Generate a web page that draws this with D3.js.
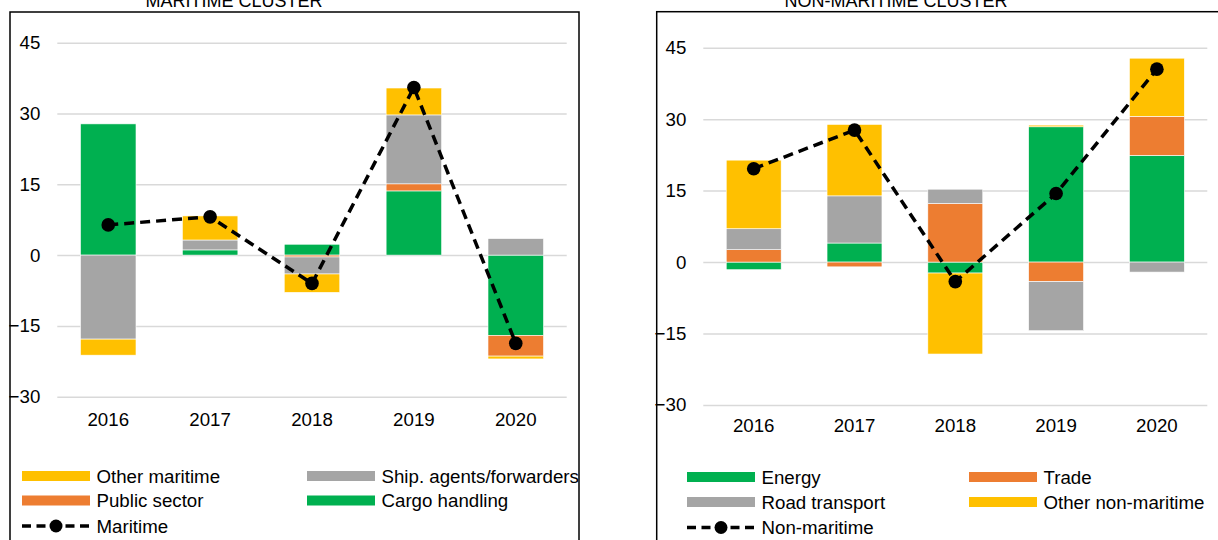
<!DOCTYPE html>
<html>
<head>
<meta charset="utf-8">
<script src="https://cdn.jsdelivr.net/npm/d3@7"></script>
<style>
  html, body { margin: 0; padding: 0; background: #fff; }
  svg { display: block; font-family: "Liberation Sans", Arial, sans-serif; }
</style>
</head>
<body>
<svg id="chart" width="1218" height="540"></svg>
<script>
// ---------- DATA ----------
const years = ["2016", "2017", "2018", "2019", "2020"];
const yTicks = [-30, -15, 0, 15, 30, 45];

// Maritime cluster
const cargoHandling  = [27.8, 1.1, 2.3, 13.6, -17.0];
const publicSector   = [0.0, 0.0, -0.4, 1.5, -4.4];
const shipAgents     = [-17.8, 2.1, -3.6, 14.6, 3.5];
const otherMaritime  = [-3.4, 5.1, -3.9, 5.7, -0.6];
const maritimeTotal  = [6.4, 8.1, -6.0, 35.5, -18.7];

// Non-maritime cluster
const energy           = [-1.6, 4.0, -2.3, 28.4, 22.4];
const trade            = [2.6, -1.0, 12.3, -4.1, 8.2];
const roadTransport    = [4.4, 9.9, 3.0, -10.3, -2.1];
const otherNonMaritime = [14.4, 15.0, -17.0, 0.35, 12.2];
const nonMaritimeTotal = [19.6, 27.7, -4.1, 14.4, 40.5];

// ---------- STYLE ----------
const COLORS = { green: "#00B050", orange: "#ED7D31", gray: "#A5A5A5", yellow: "#FFC000" };
const FONT = 18.7;

const svg = d3.select("#chart");

function drawPanel(cfg) {
  const g = svg.append("g");

  // panel border
  g.append("rect")
    .attr("x", cfg.border[0]).attr("y", cfg.border[1])
    .attr("width", cfg.border[2]).attr("height", cfg.border[3])
    .attr("fill", "none").attr("stroke", "#000").attr("stroke-width", 1.5);

  // title (partly above the visible area, as in the reference)
  g.append("text")
    .attr("x", cfg.titleX).attr("y", 6.5)
    .attr("text-anchor", "middle")
    .attr("font-size", 18).attr("fill", "#000")
    .text(cfg.title);

  const x = d3.scaleBand().domain(years)
    .range([cfg.x0, cfg.x1]).paddingInner(0.455).paddingOuter(0.2275);
  const y = d3.scaleLinear().domain([-30, 45]).range([cfg.yBottom, cfg.yTop]);

  // gridlines + y labels
  const yAxis = d3.axisLeft(y).tickValues(yTicks)
    .tickSize(-(cfg.x1 - cfg.x0)).tickPadding(17).tickFormat(d3.format("d"));
  const ya = g.append("g").attr("transform", `translate(${cfg.x0},0)`).call(yAxis);
  ya.select(".domain").remove();
  ya.selectAll(".tick line").attr("stroke", "#D9D9D9").attr("stroke-width", 1.5);
  ya.selectAll(".tick text").attr("font-size", FONT).attr("fill", "#000")
    .attr("font-family", "Liberation Sans, Arial, sans-serif");

  // stacked bars
  const rows = years.map((yr, i) => {
    const r = { year: yr };
    cfg.series.forEach(s => { r[s.key] = s.values[i]; });
    return r;
  });
  const stack = d3.stack().keys(cfg.series.map(s => s.key))
    .offset(d3.stackOffsetDiverging)(rows);
  const colorOf = {};
  cfg.series.forEach(s => colorOf[s.key] = s.color);

  g.append("g").selectAll("g").data(stack).join("g")
    .attr("fill", d => colorOf[d.key])
    .selectAll("rect").data(d => d).join("rect")
      .attr("x", d => x(d.data.year))
      .attr("width", x.bandwidth())
      .attr("y", d => y(Math.max(d[0], d[1])))
      .attr("height", d => Math.abs(y(d[0]) - y(d[1])))
      .attr("stroke", "#fff").attr("stroke-width", 0.6);

  // x labels
  const xa = d3.axisBottom(x).tickSize(0).tickPadding(0);
  const xg = g.append("g").attr("transform", `translate(0,${cfg.xLabelY})`).call(xa);
  xg.select(".domain").remove();
  xg.selectAll(".tick text").attr("font-size", FONT).attr("fill", "#000")
    .attr("dy", 0).attr("y", 0)
    .attr("font-family", "Liberation Sans, Arial, sans-serif");

  // total line
  const cx = d => x(d.year) + x.bandwidth() / 2;
  const pts = years.map((yr, i) => ({ year: yr, v: cfg.total.values[i] }));
  g.append("path").datum(pts)
    .attr("d", d3.line().x(cx).y(d => y(d.v)))
    .attr("fill", "none").attr("stroke", "#000")
    .attr("stroke-width", 3.5).attr("stroke-dasharray", "10,6");
  g.append("g").selectAll("circle").data(pts).join("circle")
    .attr("cx", cx).attr("cy", d => y(d.v)).attr("r", 6.8).attr("fill", "#000");

  // legend
  const lg = g.append("g");
  cfg.legend.forEach(item => {
    const [lx, ly] = item.pos;
    if (item.type === "bar") {
      lg.append("rect").attr("x", lx).attr("y", ly - 5).attr("width", 68).attr("height", 10)
        .attr("fill", item.color);
    } else {
      lg.append("line").attr("x1", lx).attr("x2", lx + 68).attr("y1", ly).attr("y2", ly)
        .attr("stroke", "#000").attr("stroke-width", 3.5).attr("stroke-dasharray", "9,5.5");
      lg.append("circle").attr("cx", lx + 34).attr("cy", ly).attr("r", 6.5).attr("fill", "#000");
    }
    lg.append("text").attr("x", lx + 74.5).attr("y", ly + 6.7)
      .attr("font-size", FONT).attr("fill", "#000").text(item.label);
  });
}

// Maritime panel
drawPanel({
  title: "MARITIME CLUSTER",
  titleX: 234,
  border: [10, 12, 569, 560],
  x0: 57.3, x1: 566.7,
  yTop: 42.7, yBottom: 396.7,
  xLabelY: 426,
  series: [
    { key: "Cargo handling", values: cargoHandling, color: COLORS.green },
    { key: "Public sector", values: publicSector, color: COLORS.orange },
    { key: "Ship. agents/forwarders", values: shipAgents, color: COLORS.gray },
    { key: "Other maritime", values: otherMaritime, color: COLORS.yellow }
  ],
  total: { key: "Maritime", values: maritimeTotal },
  legend: [
    { type: "bar", label: "Other maritime", color: COLORS.yellow, pos: [22, 476] },
    { type: "bar", label: "Ship. agents/forwarders", color: COLORS.gray, pos: [307, 476] },
    { type: "bar", label: "Public sector", color: COLORS.orange, pos: [22, 500.5] },
    { type: "bar", label: "Cargo handling", color: COLORS.green, pos: [307, 500.5] },
    { type: "line", label: "Maritime", pos: [22, 526] }
  ]
});

// Non-maritime panel
drawPanel({
  title: "NON-MARITIME CLUSTER",
  titleX: 896,
  border: [656.7, 11.7, 620, 560],
  x0: 703.3, x1: 1207.3,
  yTop: 47.7, yBottom: 405,
  xLabelY: 432,
  series: [
    { key: "Energy", values: energy, color: COLORS.green },
    { key: "Trade", values: trade, color: COLORS.orange },
    { key: "Road transport", values: roadTransport, color: COLORS.gray },
    { key: "Other non-maritime", values: otherNonMaritime, color: COLORS.yellow }
  ],
  total: { key: "Non-maritime", values: nonMaritimeTotal },
  legend: [
    { type: "bar", label: "Energy", color: COLORS.green, pos: [687, 477] },
    { type: "bar", label: "Trade", color: COLORS.orange, pos: [969, 477] },
    { type: "bar", label: "Road transport", color: COLORS.gray, pos: [687, 502] },
    { type: "bar", label: "Other non-maritime", color: COLORS.yellow, pos: [969, 502] },
    { type: "line", label: "Non-maritime", pos: [687, 527.5] }
  ]
});
</script>
</body>
</html>
